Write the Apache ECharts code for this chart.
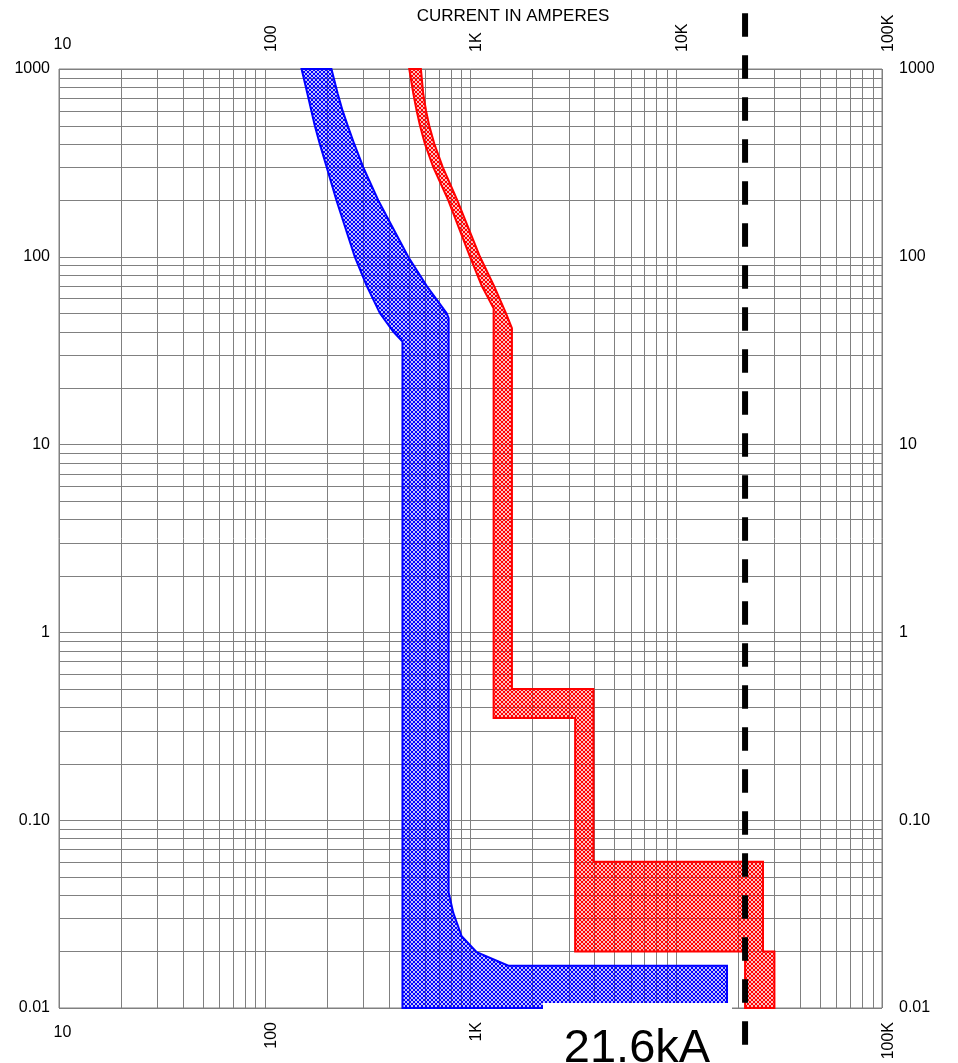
<!DOCTYPE html>
<html>
<head>
<meta charset="utf-8" />
<title>Time-current curves</title>
<script src="https://cdn.jsdelivr.net/npm/echarts@6/dist/echarts.min.js"></script>
<style>
	html, body { margin: 0; padding: 0; background: #fff; }
	#chart { width: 958px; height: 1063px; }
</style>
</head>
<body>
<div id="chart"></div>
<script>
	// axis ticks
	var xTickValues = [10, 100, 1000, 10000, 100000];
	var xTickLabels = ['10', '100', '1K', '10K', '100K'];
	var yTickValues = [0.01, 0.1, 1, 10, 100, 1000];
	var yTickLabels = ['0.01', '0.10', '1', '10', '100', '1000'];
	var minorSteps = [2, 3, 4, 5, 6, 7, 8, 9];

	// blue band outline, current (A) / time (s), left edge down then back up the right edge
	var blueCurrent = [151, 161, 175, 185, 200, 223, 274, 313, 363, 421, 467, 467, 17650, 17650, 1528, 1072, 906, 825, 783, 783, 766, 612, 498, 356, 301, 272, 253, 239, 226, 211];
	var blueTime = [1000, 742, 500, 400, 300, 200, 100, 70, 50, 40, 35.4, 0.01, 0.01, 0.0168, 0.0168, 0.0198, 0.0241, 0.0321, 0.0412, 47.1, 50, 70, 100, 200, 300, 400, 500, 600, 742, 1000];

	// red band outline
	var redCurrent = [504, 527, 547, 568, 600, 659, 780, 995, 1134, 1295, 1295, 3225, 3225, 21600, 21600, 30000, 30000, 26400, 26400, 3960, 3960, 1590, 1590, 1488, 1301, 1112, 863, 733, 667, 630, 608, 589, 574];
	var redTime = [1000, 742, 600, 500, 400, 300, 200, 100, 70, 53.2, 0.35, 0.35, 0.02, 0.02, 0.01, 0.01, 0.02, 0.02, 0.06, 0.06, 0.5, 0.5, 41.7, 50, 70, 100, 200, 300, 400, 500, 600, 742, 1000];

	// available fault current
	var faultCurrent = 21600;
	var faultLineTime = [1980, 0.005];
	var faultLabel = '21.6kA';

	var gridColor = '#808080';
	var fontFamily = '"Liberation Sans", Arial, sans-serif';

	var xMinor = [], yMinor = [];
	xTickValues.slice(0, -1).forEach(function(d) {
		minorSteps.forEach(function(m) { xMinor.push(d * m); });
	});
	yTickValues.slice(0, -1).forEach(function(d) {
		minorSteps.forEach(function(m) { yMinor.push(d * m); });
	});

	function hatch(color, tint) {
		var c = document.createElement('canvas');
		c.width = 4;
		c.height = 4;
		var g = c.getContext('2d');
		g.fillStyle = tint;
		g.fillRect(0, 0, 4, 4);
		g.fillStyle = color;
		[[0, 0], [1, 1], [2, 2], [3, 3], [3, 0], [2, 1], [1, 2], [0, 3]].forEach(function(p) {
			g.fillRect(p[0], p[1], 1, 1);
		});
		return { image: c, repeat: 'repeat' };
	}

	function xLabel(v) {
		return xTickLabels[Math.round(Math.log10(v)) - 1] || '';
	}
	function yLabel(v) {
		return yTickLabels[Math.round(Math.log10(v)) + 2] || '';
	}

	function labelStyle(extra) {
		var s = { color: '#000', fontSize: 16, fontFamily: fontFamily, showMinLabel: true, showMaxLabel: true };
		for (var k in extra) s[k] = extra[k];
		return s;
	}

	function xAxisDef(pos, label, split) {
		return {
			type: 'log', min: xTickValues[0], max: xTickValues[xTickValues.length - 1],
			position: pos,
			axisLine: { show: false },
			axisTick: { show: false },
			splitLine: { show: split, lineStyle: { color: gridColor, width: 1 } },
			axisLabel: label
		};
	}

	function bandSeries(cur, tim, color, tint) {
		var fill = hatch(color, tint);
		return {
			type: 'custom',
			silent: true,
			z: 3,
			data: cur.map(function(c, i) { return [c, tim[i]]; }),
			renderItem: function(params, api) {
				if (params.dataIndex !== 0) return;
				var pts = cur.map(function(c, i) { return api.coord([c, tim[i]]); });
				return {
					type: 'polygon',
					shape: { points: pts },
					style: { fill: fill, stroke: color, lineWidth: 2 }
				};
			}
		};
	}

	var chart = echarts.init(document.getElementById('chart'));

	chart.setOption({
		animation: false,
		backgroundColor: '#fff',
		title: {
			text: 'CURRENT IN AMPERES',
			left: 513,
			top: 8,
			padding: 0,
			textAlign: 'center',
			textStyle: { color: '#000', fontSize: 17, fontWeight: 'normal', fontFamily: fontFamily }
		},
		grid: {
			left: 59, right: 76, top: 69, bottom: 55,
			show: true, borderColor: gridColor, borderWidth: 1
		},
		xAxis: [
			xAxisDef('bottom', labelStyle({ rotate: 90, margin: 14, verticalAlign: 'top', lineHeight: 13,
				formatter: function(v) { return Math.round(Math.log10(v)) === 1 ? '' : xLabel(v); } }), true),
			// the top axis mirrors the rotation, so -90 reads bottom to top like the bottom labels
			xAxisDef('top', labelStyle({ rotate: -90, margin: 17, verticalAlign: 'top', lineHeight: 13,
				formatter: function(v) { return Math.round(Math.log10(v)) === 1 ? '' : xLabel(v); } }), false),
			xAxisDef('top', labelStyle({ rotate: 0, margin: 16, padding: [0, 0, 0, 7],
				formatter: function(v) { return Math.round(Math.log10(v)) === 1 ? xLabel(v) : ''; } }), false),
			xAxisDef('bottom', labelStyle({ rotate: 0, margin: 17, padding: [0, 0, 0, 7],
				formatter: function(v) { return Math.round(Math.log10(v)) === 1 ? xLabel(v) : ''; } }), false)
		],
		yAxis: [{
			type: 'log', min: yTickValues[0], max: yTickValues[yTickValues.length - 1],
			position: 'left',
			axisLine: { show: false },
			axisTick: { show: false },
			splitLine: { show: true, lineStyle: { color: gridColor, width: 1 } },
			axisLabel: labelStyle({ margin: 9, formatter: yLabel })
		}, {
			type: 'log', min: yTickValues[0], max: yTickValues[yTickValues.length - 1],
			position: 'right',
			axisLine: { show: false },
			axisTick: { show: false },
			splitLine: { show: false },
			axisLabel: labelStyle({ margin: 17, formatter: yLabel })
		}],
		series: [{
			// minor vertical grid lines
			type: 'custom',
			silent: true,
			z: 1,
			data: xMinor.map(function(v) { return [v, 1]; }),
			renderItem: function(params, api) {
				var a = api.coord([api.value(0), yTickValues[yTickValues.length - 1]]);
				var b = api.coord([api.value(0), yTickValues[0]]);
				var x = Math.round(a[0]) + 0.5;
				return { type: 'line', shape: { x1: x, y1: a[1], x2: x, y2: b[1] }, style: { stroke: gridColor, lineWidth: 1 } };
			}
		}, {
			// minor horizontal grid lines
			type: 'custom',
			silent: true,
			z: 1,
			data: yMinor.map(function(v) { return [100, v]; }),
			renderItem: function(params, api) {
				var a = api.coord([xTickValues[0], api.value(1)]);
				var b = api.coord([xTickValues[xTickValues.length - 1], api.value(1)]);
				var y = Math.round(a[1]) + 0.5;
				return { type: 'line', shape: { x1: a[0], y1: y, x2: b[0], y2: y }, style: { stroke: gridColor, lineWidth: 1 } };
			}
		},
		bandSeries(blueCurrent, blueTime, '#0000ff', 'rgba(0,0,255,0.25)'),
		bandSeries(redCurrent, redTime, '#ff0000', 'rgba(255,0,0,0.25)'),
		{
			// available fault current
			type: 'line',
			silent: true,
			clip: false,
			z: 5,
			symbol: 'none',
			data: [[faultCurrent, faultLineTime[0]], [faultCurrent, faultLineTime[1]]],
			lineStyle: { color: '#000', width: 6, type: [23.5, 18.5] }
		}],
		graphic: [{
			type: 'rect',
			z: 100,
			shape: { x: 543, y: 1003, width: 189, height: 60 },
			style: { fill: '#fff' }
		}, {
			type: 'text',
			z: 101,
			x: 637,
			y: 1049,
			style: {
				text: faultLabel,
				fill: '#000',
				font: '47px ' + fontFamily,
				textAlign: 'center',
				textVerticalAlign: 'middle'
			}
		}]
	});

	window.onresize = function() {
		chart.resize();
	};
</script>
</body>
</html>
